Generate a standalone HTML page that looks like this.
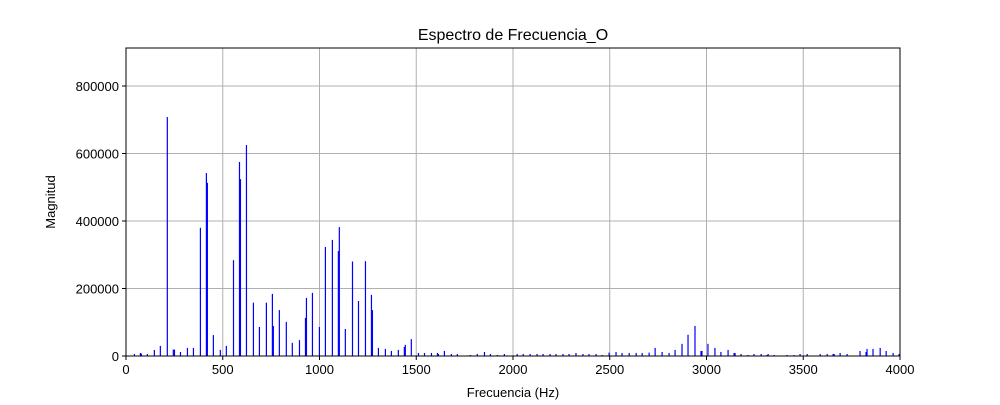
<!DOCTYPE html>
<html><head><meta charset="utf-8"><style>
body{margin:0;background:#fff;}
svg text{font-family:"Liberation Sans","DejaVu Sans",sans-serif;fill:#000;}
</style></head><body>
<svg id="chart" width="1000" height="400" xmlns="http://www.w3.org/2000/svg">
<rect width="1000" height="400" fill="#fff"/>
<g id="grid"></g>
<g id="bars"></g>
<g id="axes"></g>
<text x="513" y="40" font-size="16" text-anchor="middle">Espectro de Frecuencia_O</text>
<text x="513" y="397" font-size="13" text-anchor="middle">Frecuencia (Hz)</text>
<text x="0" y="0" font-size="13" text-anchor="middle" transform="translate(55,202) rotate(-90)">Magnitud</text>
</svg>
<script>
const freqs=[43,74,79,110,146,177,213,244,250,281,317,348,384,415,420,451,487,518,555,586,591,622,658,689,725,756,761,792,828,859,896,927,932,963,999,1030,1066,1097,1102,1133,1170,1201,1237,1268,1273,1304,1340,1371,1407,1438,1443,1474,1511,1542,1578,1609,1614,1645,1681,1712,1779,1815,1852,1883,1919,1955,2021,2052,2088,2124,2155,2191,2222,2258,2289,2325,2361,2392,2429,2460,2496,2532,2563,2600,2636,2667,2703,2734,2770,2806,2837,2873,2904,2940,2971,2976,3007,3043,3074,3111,3142,3147,3178,3214,3245,3282,3313,3318,3349,3416,3452,3483,3520,3587,3623,3654,3659,3690,3726,3793,3824,3829,3860,3897,3928,3964,3995];
const mags=[6000,9000,7000,6000,18000,30000,708000,19000,19000,12000,24000,24000,380000,542000,513000,62000,18000,30000,284000,575000,524000,625000,158000,86000,158000,184000,89000,136000,101000,39000,47000,113000,172000,187000,86000,323000,344000,311000,382000,80000,280000,163000,281000,181000,136000,24000,21000,15000,18000,27000,33000,50000,9000,9000,9000,9000,6000,15000,6000,6000,3000,6000,12000,6000,3000,6000,6000,6000,6000,6000,6000,6000,6000,6000,6000,9000,6000,6000,6000,3000,10000,12000,9000,9000,9000,9000,10000,24000,12000,9000,18000,36000,63000,89000,15000,15000,36000,24000,12000,18000,9000,9000,6000,3000,6000,6000,3000,6000,3000,3000,3000,6000,6000,6000,6000,6000,6000,9000,6000,15000,12000,21000,21000,24000,15000,9000,6000];
const xTicks=[0,500,1000,1500,2000,2500,3000,3500,4000];
const yTicks=[0,200000,400000,600000,800000];
const yTickLabels=["0","200000","400000","600000","800000"];
const NS="http://www.w3.org/2000/svg";
const L=126,R=900,T=48,B=356,XMAX=4000,YMAX=912600;
const xs=v=>L+(v/XMAX)*(R-L);
const ys=v=>B-(v/YMAX)*(B-T);
function mk(t,a,p){const e=document.createElementNS(NS,t);for(const k in a)e.setAttribute(k,a[k]);p.appendChild(e);return e;}
const grid=document.getElementById('grid'),bars=document.getElementById('bars'),axes=document.getElementById('axes');
xTicks.forEach(v=>{const l=mk('line',{x1:xs(v),x2:xs(v),y1:T,y2:B,stroke:'#b0b0b0','stroke-width':1},grid);

});
yTicks.forEach(v=>{const l=mk('line',{x1:L,x2:R,y1:ys(v),y2:ys(v),stroke:'#b0b0b0','stroke-width':1},grid);

});
freqs.forEach((f,i)=>{const y=ys(mags[i]);const b=mk('rect',{x:xs(f)-0.5,y:y,width:1.2,height:B-y,fill:'#0000ff'},bars);

});
const frame=mk('rect',{x:L,y:T,width:R-L,height:B-T,fill:'none',stroke:'#000','stroke-width':1},axes);


xTicks.forEach(v=>{mk('line',{x1:xs(v),x2:xs(v),y1:B,y2:B+4,stroke:'#000'},axes);
const t=mk('text',{x:xs(v),y:B+18,'font-size':13,'text-anchor':'middle'},axes);t.textContent=v;

});
yTicks.forEach((v,i)=>{mk('line',{x1:L-4,x2:L,y1:ys(v),y2:ys(v),stroke:'#000'},axes);
const t=mk('text',{x:L-7,y:ys(v)+5,'font-size':13,'text-anchor':'end'},axes);t.textContent=yTickLabels[i];

});
</script>
</body></html>
